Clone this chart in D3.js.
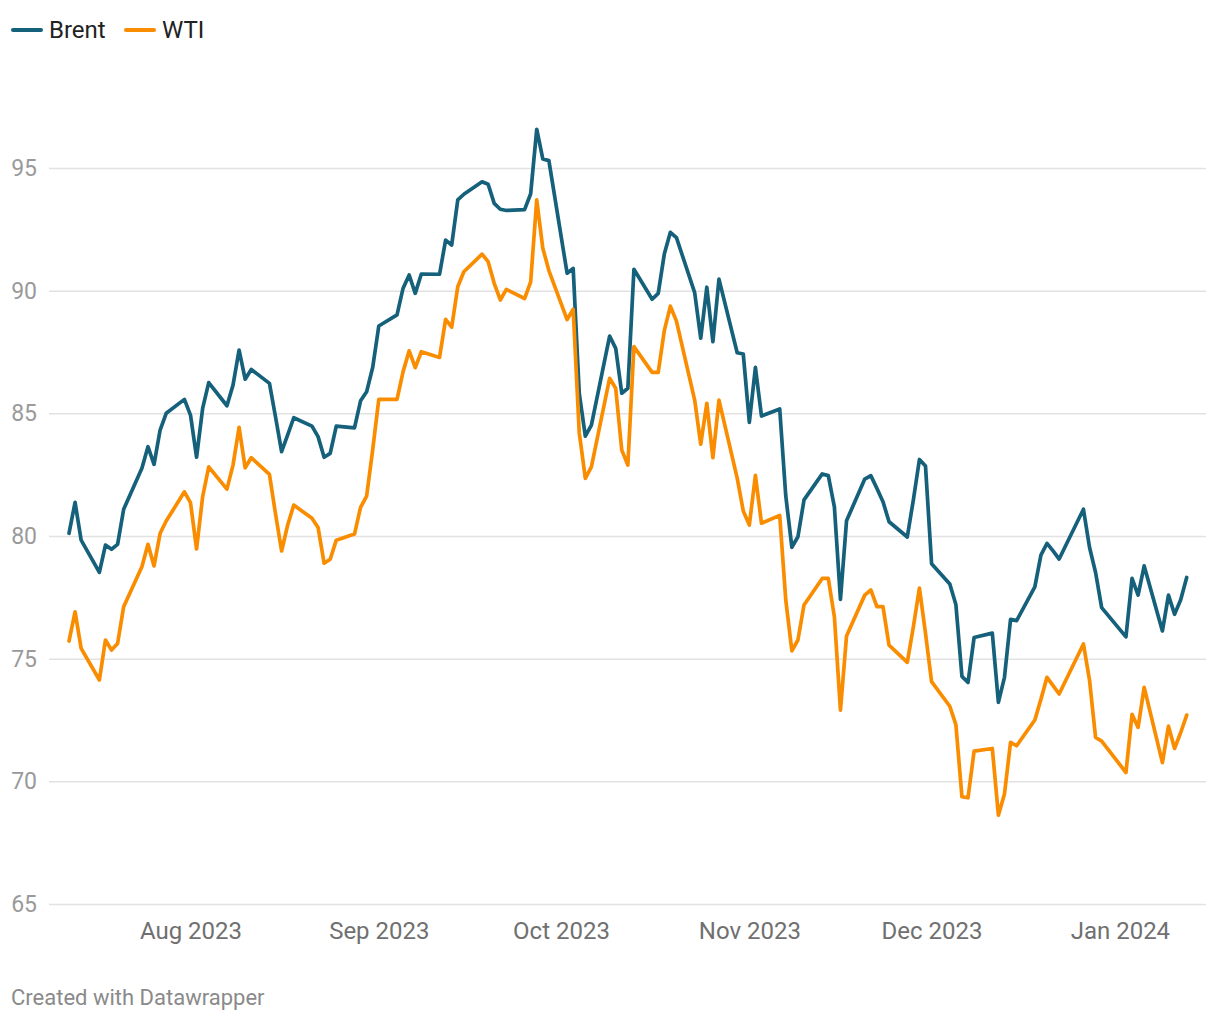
<!DOCTYPE html>
<html>
<head>
<meta charset="utf-8">
<script src="https://cdn.jsdelivr.net/npm/d3@7"></script>
<style>
  html, body { margin: 0; padding: 0; background: #fff; }
  svg { display: block; font-family: Roboto, "Noto Sans", sans-serif; }
</style>
</head>
<body>
<svg id="chart" width="1220" height="1020"></svg>
<script>
// ---- data ----
const dates = [
  "2023-07-12","2023-07-13","2023-07-14","2023-07-17","2023-07-18","2023-07-19","2023-07-20","2023-07-21","2023-07-24","2023-07-25","2023-07-26","2023-07-27","2023-07-28","2023-07-31",
  "2023-08-01","2023-08-02","2023-08-03","2023-08-04","2023-08-07","2023-08-08","2023-08-09","2023-08-10","2023-08-11","2023-08-14","2023-08-15","2023-08-16","2023-08-17","2023-08-18","2023-08-21","2023-08-22","2023-08-23","2023-08-24","2023-08-25","2023-08-28","2023-08-29","2023-08-30","2023-08-31",
  "2023-09-01","2023-09-04","2023-09-05","2023-09-06","2023-09-07","2023-09-08","2023-09-11","2023-09-12","2023-09-13","2023-09-14","2023-09-15","2023-09-18","2023-09-19","2023-09-20","2023-09-21","2023-09-22","2023-09-25","2023-09-26","2023-09-27","2023-09-28","2023-09-29",
  "2023-10-02","2023-10-03","2023-10-04","2023-10-05","2023-10-06","2023-10-09","2023-10-10","2023-10-11","2023-10-12","2023-10-13","2023-10-16","2023-10-17","2023-10-18","2023-10-19","2023-10-20","2023-10-23","2023-10-24","2023-10-25","2023-10-26","2023-10-27","2023-10-30","2023-10-31",
  "2023-11-01","2023-11-02","2023-11-03","2023-11-06","2023-11-07","2023-11-08","2023-11-09","2023-11-10","2023-11-13","2023-11-14","2023-11-15","2023-11-16","2023-11-17","2023-11-20","2023-11-21","2023-11-22","2023-11-23","2023-11-24","2023-11-27","2023-11-28","2023-11-29","2023-11-30",
  "2023-12-01","2023-12-04","2023-12-05","2023-12-06","2023-12-07","2023-12-08","2023-12-11","2023-12-12","2023-12-13","2023-12-14","2023-12-15","2023-12-18","2023-12-19","2023-12-20","2023-12-21","2023-12-22","2023-12-26","2023-12-27","2023-12-28","2023-12-29",
  "2024-01-02","2024-01-03","2024-01-04","2024-01-05","2024-01-08","2024-01-09","2024-01-10","2024-01-11","2024-01-12"
];

const brent = [
  80.11, 81.37, 79.83, 78.52, 79.63, 79.46, 79.66, 81.09, 82.76, 83.64, 82.92, 84.32, 85.00, 85.57,
  84.93, 83.21, 85.20, 86.25, 85.31, 86.15, 87.58, 86.39, 86.79, 86.22, 84.85, 83.44, 84.12, 84.82, 84.48, 84.05, 83.21, 83.37, 84.48, 84.41, 85.51, 85.88, 86.88,
  88.56, 89.01, 90.10, 90.64, 89.89, 90.68, 90.67, 92.06, 91.86, 93.70, 93.93, 94.44, 94.34, 93.56, 93.32, 93.27, 93.30, 93.95, 96.58, 95.37, 95.30,
  90.71, 90.91, 85.82, 84.07, 84.52, 88.15, 87.65, 85.82, 86.02, 90.87, 89.65, 89.89, 91.49, 92.38, 92.16, 89.92, 88.06, 90.14, 87.92, 90.47, 87.47, 87.42,
  84.63, 86.87, 84.89, 85.18, 81.63, 79.54, 79.97, 81.47, 82.53, 82.46, 81.19, 77.42, 80.62, 82.32, 82.46, 81.94, 81.40, 80.58, 79.96, 81.47, 83.12, 82.85,
  78.87, 78.04, 77.21, 74.28, 74.03, 75.86, 76.04, 73.22, 74.24, 76.60, 76.55, 77.93, 79.22, 79.70, 79.39, 79.06, 81.09, 79.54, 78.51, 77.08,
  75.89, 78.27, 77.59, 78.78, 76.13, 77.59, 76.81, 77.39, 78.31
];

const wti = [
  75.72, 76.91, 75.42, 74.13, 75.76, 75.35, 75.62, 77.12, 78.75, 79.66, 78.78, 80.11, 80.61, 81.80,
  81.36, 79.47, 81.60, 82.82, 81.91, 82.89, 84.43, 82.78, 83.19, 82.51, 80.90, 79.39, 80.45, 81.26, 80.72, 80.35, 78.89, 79.05, 79.83, 80.08, 81.17, 81.63, 83.53,
  85.57, 85.57, 86.70, 87.55, 86.86, 87.51, 87.28, 88.83, 88.51, 90.16, 90.77, 91.49, 91.18, 90.30, 89.62, 90.05, 89.68, 90.36, 93.70, 91.73, 90.82,
  88.82, 89.24, 84.21, 82.35, 82.82, 86.43, 86.02, 83.50, 82.89, 87.72, 86.67, 86.67, 88.37, 89.37, 88.76, 85.54, 83.74, 85.41, 83.19, 85.54, 82.36, 81.02,
  80.45, 82.47, 80.52, 80.84, 77.39, 75.32, 75.76, 77.19, 78.27, 78.27, 76.71, 72.90, 75.92, 77.59, 77.80, 77.12, 77.12, 75.55, 74.85, 76.29, 77.88, 76.04,
  74.06, 73.06, 72.31, 69.37, 69.33, 71.23, 71.34, 68.62, 69.48, 71.59, 71.45, 72.50, 73.34, 74.24, 73.90, 73.56, 75.60, 74.13, 71.79, 71.64,
  70.36, 72.73, 72.20, 73.83, 70.76, 72.25, 71.34, 71.98, 72.70
];

const seriesNames = ["Brent", "WTI"];
const seriesColors = ["#15607a", "#fa8c00"];
const yTicks = [65, 70, 75, 80, 85, 90, 95];
const xTickDates = ["2023-08-01","2023-09-01","2023-10-01","2023-11-01","2023-12-01","2024-01-01"];
const footerText = "Created with Datawrapper";

// ---- drawing ----
const parse = d3.utcParse("%Y-%m-%d");
const svg = d3.select("#chart");

const plotLeft = 49, plotRight = 1206;
const x = d3.scaleUtc()
  .domain([parse(dates[0]), parse(dates[dates.length - 1])])
  .range([69, 1186.7]);
const y = d3.scaleLinear().domain([65, 95]).range([904, 168]);

// gridlines + y labels
const yAxis = d3.axisLeft(y).tickValues(yTicks).tickSize(-(plotRight - plotLeft)).tickPadding(12);
const gy = svg.append("g").attr("transform", `translate(${plotLeft},0)`).call(yAxis);
gy.select(".domain").remove();
gy.selectAll(".tick line").attr("stroke", "#e2e2e2").attr("stroke-width", 1.5);
gy.selectAll(".tick text")
  .attr("fill", "#9a9a9a")
  .attr("font-size", 23)
  .attr("font-family", "Roboto, sans-serif");

// x axis labels
const xAxis = d3.axisBottom(x)
  .tickValues(xTickDates.map(parse))
  .tickFormat(d3.utcFormat("%b %Y"))
  .tickSize(0).tickPadding(18);
const gx = svg.append("g").attr("transform", `translate(0,904)`).call(xAxis);
gx.select(".domain").remove();
gx.selectAll(".tick text")
  .attr("fill", "#707070")
  .attr("font-size", 24)
  .attr("font-family", "Roboto, sans-serif");

// lines
const series = [brent, wti];
const line = d3.line()
  .x((d, i) => x(parse(dates[i])))
  .y(d => y(d))
  .curve(d3.curveLinear);

series.forEach((vals, k) => {
  svg.append("path")
    .datum(vals)
    .attr("fill", "none")
    .attr("stroke", seriesColors[k])
    .attr("stroke-width", 3.7)
    .attr("stroke-linejoin", "round")
    .attr("stroke-linecap", "round")
    .attr("d", line);
});

// legend
const legend = svg.append("g").attr("transform", "translate(12,30)");
const legendX = [0, 113];
seriesNames.forEach((name, k) => {
  const g = legend.append("g").attr("transform", `translate(${legendX[k]},0)`);
  g.append("line").attr("x1", 1).attr("x2", 29).attr("y1", 0).attr("y2", 0)
    .attr("stroke", seriesColors[k]).attr("stroke-width", 4).attr("stroke-linecap", "round");
  g.append("text").attr("x", 37).attr("y", 0).attr("dy", "0.35em")
    .attr("font-size", 24).attr("fill", "#222").text(name);
});

// footer
svg.append("text").attr("x", 11).attr("y", 1005)
  .attr("font-size", 22).attr("fill", "#8a8a8a").text(footerText);
</script>
</body>
</html>
